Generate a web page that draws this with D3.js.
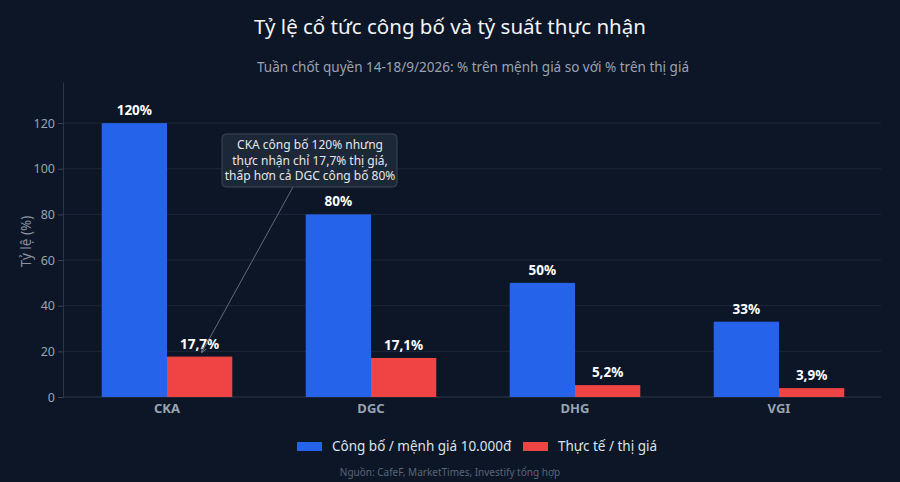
<!DOCTYPE html>
<html>
<head>
<meta charset="utf-8">
<script src="https://cdn.jsdelivr.net/npm/d3@7"></script>
<style>
  body { margin: 0; background: #0c1626; }
  svg { display: block; font-family: 'Noto Sans', 'Open Sans', sans-serif; }
</style>
</head>
<body>
<svg width="900" height="482"></svg>
<script>
const categories = ['CKA', 'DGC', 'DHG', 'VGI'];
const announced = [120, 80, 50, 33];
const actual = [17.7, 17.1, 5.2, 3.9];
const yTicks = [0, 20, 40, 60, 80, 100, 120];
const seriesNames = ['Công bố / mệnh giá 10.000đ', 'Thực tế / thị giá'];
const seriesColors = ['#2563eb', '#ef4444'];

const W = 900, H = 482;
const plotLeft = 65, plotRight = 881, plotTop = 82, plotBottom = 397;

const svg = d3.select('svg');
svg.append('rect').attr('width', W).attr('height', H).attr('fill', '#0c1626');

const fmt = (v) => String(v).replace('.', ',') + '%';

const rows = categories.map((c, i) => ({ cat: c, values: [announced[i], actual[i]] }));

const x0 = d3.scaleBand()
  .domain(categories)
  .range([plotLeft, plotRight])
  .paddingInner(0.36)
  .paddingOuter(0.18);

const x1 = d3.scaleBand()
  .domain([0, 1])
  .range([0, x0.bandwidth()]);

const y = d3.scaleLinear()
  .domain([0, 138])
  .range([plotBottom, plotTop]);

// grid
svg.append('g')
  .selectAll('line')
  .data(yTicks.slice(1))
  .enter()
  .append('line')
  .attr('x1', plotLeft - 2)
  .attr('x2', plotRight)
  .attr('y1', (d) => y(d))
  .attr('y2', (d) => y(d))
  .attr('stroke', '#1c2738')
  .attr('stroke-width', 1);

// y axis
const yAxis = svg.append('g')
  .attr('transform', `translate(${plotLeft - 2},0)`)
  .call(d3.axisLeft(y).tickValues(yTicks).tickSize(5).tickSizeOuter(0));
yAxis.select('.domain').attr('stroke', '#2b3648');
yAxis.selectAll('.tick line').attr('stroke', '#3a4659');
yAxis.selectAll('.tick text')
  .attr('fill', '#9aa4b2')
  .attr('font-size', 12.5)
  .attr('font-family', 'Noto Sans');

// x axis
const xAxis = svg.append('g')
  .attr('transform', `translate(0,${plotBottom})`)
  .call(d3.axisBottom(x0).tickSize(0).tickPadding(7));
xAxis.select('.domain').attr('stroke', '#2b3648').attr('d', `M${plotLeft - 2},0H${plotRight}`);
xAxis.selectAll('.tick text')
  .attr('fill', '#9aa4b2')
  .attr('font-size', 13)
  .attr('font-weight', 'bold')
  .attr('font-family', 'Noto Sans');

// bars
const groups = svg.append('g')
  .selectAll('g')
  .data(rows)
  .enter()
  .append('g')
  .attr('transform', (d) => `translate(${x0(d.cat)},0)`);

groups.selectAll('rect')
  .data((d) => d.values)
  .enter()
  .append('rect')
  .attr('x', (d, i) => x1(i))
  .attr('y', (d) => y(d))
  .attr('width', x1.bandwidth())
  .attr('height', (d) => plotBottom - y(d))
  .attr('fill', (d, i) => seriesColors[i]);

groups.selectAll('text')
  .data((d) => d.values)
  .enter()
  .append('text')
  .attr('x', (d, i) => x1(i) + x1.bandwidth() / 2)
  .attr('y', (d) => y(d) - 8)
  .attr('text-anchor', 'middle')
  .attr('fill', '#ffffff')
  .attr('font-size', 13.5)
  .attr('font-weight', 'bold')
  .text((d) => fmt(d));

// annotation
const ax = x0('CKA') + x1(1) + x1.bandwidth() / 2;
const ay = y(actual[0]) - 4;
svg.append('defs').append('marker')
  .attr('id', 'arrow')
  .attr('viewBox', '0 0 10 10')
  .attr('refX', 9).attr('refY', 5)
  .attr('markerWidth', 7).attr('markerHeight', 7)
  .attr('orient', 'auto')
  .append('path')
  .attr('d', 'M0,1 L9,5 L0,9')
  .attr('fill', 'none')
  .attr('stroke', '#7b8494')
  .attr('stroke-width', 1.2);

svg.append('line')
  .attr('x1', 293).attr('y1', 187)
  .attr('x2', ax + 2).attr('y2', ay)
  .attr('stroke', '#6b7483')
  .attr('stroke-width', 0.9)
  .attr('marker-end', 'url(#arrow)');

svg.append('rect')
  .attr('x', 222).attr('y', 134)
  .attr('width', 175).attr('height', 53)
  .attr('rx', 4)
  .attr('fill', '#1d2838')
  .attr('fill-opacity', 0.95)
  .attr('stroke', '#3b4657');

const noteLines = ['CKA công bố 120% nhưng', 'thực nhận chỉ 17,7% thị giá,', 'thấp hơn cả DGC công bố 80%'];
svg.append('text')
  .attr('x', 310)
  .attr('y', 149)
  .attr('text-anchor', 'middle')
  .attr('fill', '#e5e7eb')
  .attr('font-size', 12)
  .selectAll('tspan')
  .data(noteLines)
  .enter()
  .append('tspan')
  .attr('x', 310)
  .attr('dy', (d, i) => i === 0 ? 0 : 15.5)
  .text((d) => d);

// titles
svg.append('text')
  .attr('x', W / 2).attr('y', 34)
  .attr('text-anchor', 'middle')
  .attr('fill', '#f3f4f6')
  .attr('font-size', 20.5)
  .text('Tỷ lệ cổ tức công bố và tỷ suất thực nhận');

svg.append('text')
  .attr('x', W / 2 + 23).attr('y', 72)
  .attr('text-anchor', 'middle')
  .attr('fill', '#9aa3b2')
  .attr('font-size', 13.5)
  .text('Tuần chốt quyền 14-18/9/2026: % trên mệnh giá so với % trên thị giá');

svg.append('text')
  .attr('transform', `translate(31,${(plotTop + plotBottom) / 2 + 2}) rotate(-90)`)
  .attr('text-anchor', 'middle')
  .attr('fill', '#8a94a3')
  .attr('font-size', 13.5)
  .text('Tỷ lệ (%)');

// legend
const legendX = [297, 523];
const legend = svg.append('g')
  .selectAll('g')
  .data(seriesNames)
  .enter()
  .append('g')
  .attr('transform', (d, i) => `translate(${legendX[i]},446)`);
legend.append('rect')
  .attr('x', 0).attr('y', -4)
  .attr('width', 25).attr('height', 9)
  .attr('fill', (d, i) => seriesColors[i]);
legend.append('text')
  .attr('x', 35).attr('y', 5)
  .attr('fill', '#dfe3ea')
  .attr('font-size', 13.5)
  .text((d) => d);

svg.append('text')
  .attr('x', 450).attr('y', 476)
  .attr('text-anchor', 'middle')
  .attr('fill', '#5a6576')
  .attr('font-size', 10)
  .text('Nguồn: CafeF, MarketTimes, Investify tổng hợp');
</script>
</body>
</html>
